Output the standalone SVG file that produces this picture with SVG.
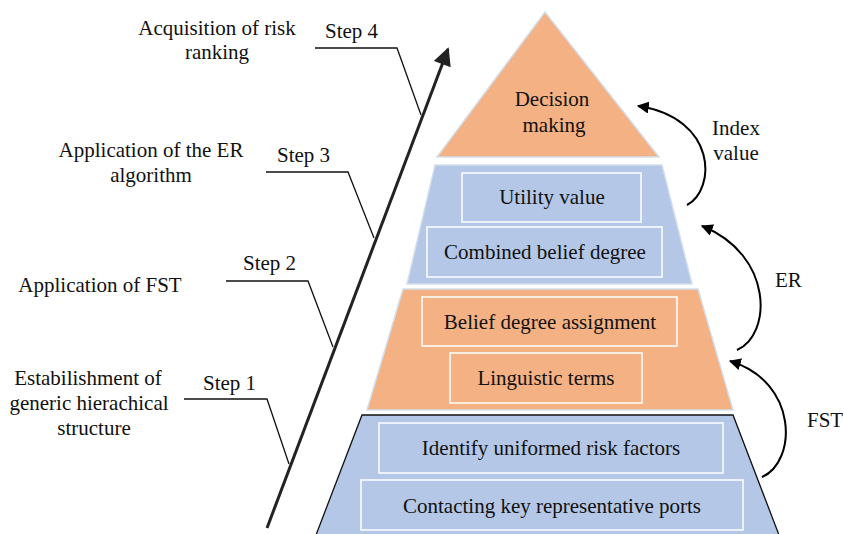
<svg xmlns="http://www.w3.org/2000/svg" width="843" height="534" viewBox="0 0 843 534">
<style>
text{font-family:"Liberation Serif","Times New Roman",serif;font-size:21px;fill:#111;}
.c{text-anchor:middle;}
.orange{fill:#F4B183;stroke:#D3DEEC;stroke-width:1.5;}
.blue{fill:#B4C7E7;stroke:#D3DEEC;stroke-width:1.5;}
.box{fill:none;stroke:#FFFFFF;stroke-width:1.5;}
.lead{fill:none;stroke:#111;stroke-width:1.3;}
.curve{fill:none;stroke:#000;stroke-width:2;}
</style>
<defs>
<marker id="ah" viewBox="0 0 10 10" refX="9" refY="5" markerWidth="6" markerHeight="6" markerUnits="strokeWidth" orient="auto">
<path d="M0,0 L10,5 L0,10 z" fill="#000"/>
</marker>
<marker id="bigah" viewBox="0 0 10 10" refX="9" refY="5" markerWidth="7" markerHeight="6" markerUnits="strokeWidth" orient="auto">
<path d="M0,0 L10,5 L0,10 z" fill="#222"/>
</marker>
</defs>

<g id="layer4">
<path d="M362,415 L733,415 L779,535 L316,535 Z" fill="#B4C7E7" stroke="#111" stroke-width="1.3"/>
<rect class="box" x="379" y="423" width="344" height="50"/>
<text class="c" x="551" y="455">Identify uniformed risk factors</text>
<rect class="box" x="361" y="480" width="382" height="50"/>
<text class="c" x="552" y="513">Contacting key representative ports</text>
</g>

<g id="layer3">
<path class="orange" d="M403,289 L698,289 L733,410 L367,410 Z"/>
<rect class="box" x="422" y="297" width="255" height="49"/>
<text class="c" x="550" y="329">Belief degree assignment</text>
<rect class="box" x="450" y="353" width="192" height="50"/>
<text class="c" x="546" y="385">Linguistic terms</text>
</g>

<g id="layer2">
<path class="blue" d="M435,165 L662,165 L692,284 L407,284 Z"/>
<rect class="box" x="462" y="173" width="179" height="49"/>
<text class="c" x="552" y="204">Utility value</text>
<rect class="box" x="427" y="227" width="235" height="50"/>
<text class="c" x="545" y="259">Combined belief degree</text>
</g>

<g id="layer1">
<path class="orange" d="M545,12 L659,157 L437,157 Z"/>
<text class="c" x="552" y="106">Decision</text>
<text class="c" x="554" y="132">making</text>
</g>

<g id="connectors">
<line x1="267" y1="528" x2="448" y2="49" stroke="#222" stroke-width="3" marker-end="url(#bigah)"/>
<path class="lead" d="M315,48 L397,48 L421,115"/>
<path class="lead" d="M266,172 L348,172 L374,238"/>
<path class="lead" d="M226,281 L308,281 L333,347"/>
<path class="lead" d="M184,399 L267,399 L289,464"/>
<path class="curve" d="M687,205 C716,190 718,118 638,106" marker-end="url(#ah)"/>
<path class="curve" d="M737,350 C772,335 774,255 702,226" marker-end="url(#ah)"/>
<path class="curve" d="M762,477 C797,462 799,382 730,361" marker-end="url(#ah)"/>
</g>

<g id="labels">
<text class="c" x="217" y="35">Acquisition of risk</text>
<text class="c" x="217" y="59">ranking</text>
<text x="325" y="38">Step 4</text>
<text class="c" x="151" y="157">Application of the ER</text>
<text class="c" x="151" y="182">algorithm</text>
<text x="277" y="162">Step 3</text>
<text class="c" x="100" y="292">Application of FST</text>
<text x="243" y="270">Step 2</text>
<text class="c" x="88" y="385">Estabilishment of</text>
<text class="c" x="89" y="410">generic hierachical</text>
<text class="c" x="94" y="435">structure</text>
<text x="203" y="390">Step 1</text>
<text class="c" x="736" y="135">Index</text>
<text class="c" x="736" y="160">value</text>
<text x="775" y="287">ER</text>
<text x="807" y="427">FST</text>
</g>
</svg>
